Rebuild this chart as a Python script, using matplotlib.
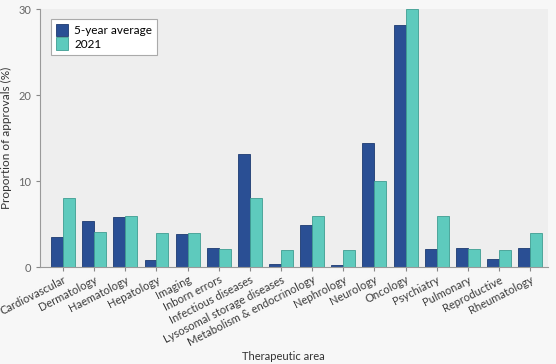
import matplotlib
matplotlib.use("Agg")
import matplotlib.pyplot as plt
import numpy as np

categories = ["Cardiovascular", "Dermatology", "Haematology", "Hepatology", "Imaging",
              "Inborn errors", "Infectious diseases", "Lysosomal storage diseases",
              "Metabolism & endocrinology", "Nephrology", "Neurology", "Oncology",
              "Psychiatry", "Pulmonary", "Reproductive", "Rheumatology"]
avg5 = [3.5, 5.35, 5.8, 0.8, 3.8, 2.2, 13.2, 0.4, 4.9, 0.3, 14.4, 28.1, 2.1, 2.2, 0.95, 2.2]
y2021 = [8.0, 4.1, 6.0, 4.0, 4.0, 2.1, 8.0, 2.0, 6.0, 2.0, 10.0, 30.0, 6.0, 2.1, 2.0, 4.0]
yticks = [0, 10, 20, 30]

plt.rcParams['font.family'] = ['Lato', 'DejaVu Sans']

fig = plt.figure(figsize=(5.56, 3.64), dpi=100, facecolor='#f7f7f7')
ax = fig.add_axes([0.072, 0.266, 0.914, 0.709])
ax.set_facecolor('#eeeeee')

x = np.arange(len(categories))
w = 0.385
ax.bar(x - w/2, avg5, w, color='#2a4f94', edgecolor='#1d3a70', linewidth=0.6, label='5-year average')
ax.bar(x + w/2, y2021, w, color='#5ecabd', edgecolor='#3f9d92', linewidth=0.6, label='2021')

ax.set_xlim(-0.74, len(categories) - 1 + 0.58)
ax.set_ylim(0, 30)
ax.set_yticks(yticks)
ax.set_xticks(x)
ax.set_xticklabels(categories, rotation=27, ha='right', rotation_mode='anchor', fontsize=8, color='#3a3a3a')
ax.tick_params(axis='y', labelsize=8, labelcolor='#666666', color='#888888', length=3)
ax.tick_params(axis='x', color='#888888', length=3, pad=2)
for s in ['top', 'right']:
    ax.spines[s].set_visible(False)
for s in ['left', 'bottom']:
    ax.spines[s].set_color('#999999')
    ax.spines[s].set_linewidth(0.8)

ax.set_ylabel('Proportion of approvals (%)', fontsize=8.5, color='#333333', labelpad=4)
ax.set_xlabel('Therapeutic area', fontsize=8, color='#333333', labelpad=2, x=0.478)

leg = ax.legend(loc='upper left', bbox_to_anchor=(0.01, 0.985), fontsize=8.5, frameon=True,
                fancybox=False, edgecolor='#aaaaaa', facecolor='white', framealpha=1,
                handlelength=1.0, handleheight=1.2, handletextpad=0.5, borderpad=0.45,
                labelspacing=0.1)
leg.get_frame().set_linewidth(0.8)

fig.savefig('out.png', dpi=100, facecolor=fig.get_facecolor())
